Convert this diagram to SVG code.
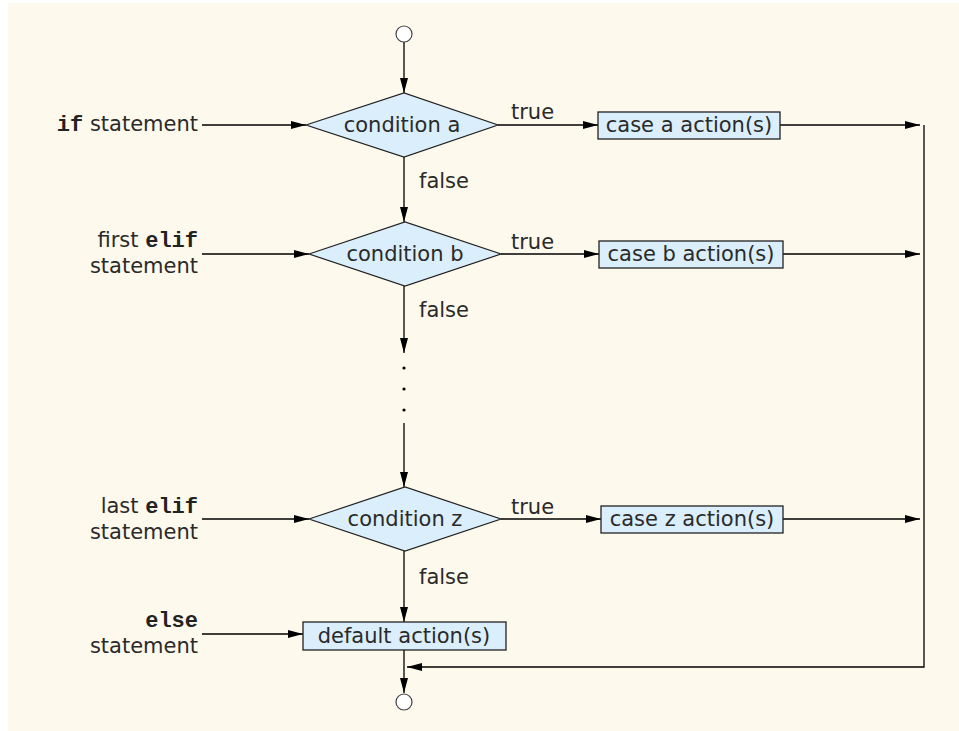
<svg xmlns="http://www.w3.org/2000/svg" width="959" height="731" viewBox="0 0 959 731">
  <defs>
    <marker id="arrow" markerUnits="userSpaceOnUse" markerWidth="15" markerHeight="9" refX="15" refY="4.5" orient="auto">
      <path d="M0,0.5 L15,4.5 L0,8.5 z" fill="#000"/>
    </marker>
    <style>
      .bg { fill: #fdf9ec; }
      .dec { fill: #dbeefb; stroke: #222; stroke-width: 1.2; }
      .act { fill: #dbeefb; stroke: #222; stroke-width: 1.3; }
      .term { fill: #fff; stroke: #444; stroke-width: 1.2; }
      .flow { fill: none; stroke: #000; stroke-width: 1.3; }
      .arr { marker-end: url(#arrow); }
      .lbl { font-family: "DejaVu Sans", "Liberation Sans", sans-serif; font-size: 21px; fill: #2a2a2a; }
      .mid { text-anchor: middle; }
      .end { text-anchor: end; }
      .kw { font-family: "Liberation Mono", "DejaVu Sans Mono", monospace; font-weight: bold; font-size: 22px; fill: #222; }
      .dot { fill: #000; }
    </style>
  </defs>

  <rect class="bg" x="8" y="3" width="951" height="728"/>

  <!-- connectors -->
  <g id="connectors">
    <line class="flow arr" x1="404" y1="42" x2="404" y2="93"/>
    <line class="flow arr" x1="404" y1="157" x2="404" y2="222"/>
    <line class="flow arr" x1="404" y1="286" x2="404" y2="353"/>
    <circle class="dot" cx="404" cy="368" r="1.6"/>
    <circle class="dot" cx="404" cy="389" r="1.6"/>
    <circle class="dot" cx="404" cy="410" r="1.6"/>
    <line class="flow arr" x1="404" y1="423" x2="404" y2="487"/>
    <line class="flow arr" x1="404" y1="551" x2="404" y2="622"/>
    <line class="flow arr" x1="404" y1="650" x2="404" y2="693"/>

    <!-- entry arrows from statement labels -->
    <line class="flow arr" x1="202" y1="125" x2="306" y2="125"/>
    <line class="flow arr" x1="202" y1="254" x2="309" y2="254"/>
    <line class="flow arr" x1="202" y1="519" x2="309" y2="519"/>
    <line class="flow arr" x1="202" y1="634" x2="303" y2="634"/>

    <!-- true branches -->
    <line class="flow arr" x1="498" y1="125" x2="598" y2="125"/>
    <line class="flow arr" x1="501" y1="254" x2="599" y2="254"/>
    <line class="flow arr" x1="501" y1="519" x2="601" y2="519"/>

    <!-- from action boxes to the merge line -->
    <line class="flow arr" x1="780" y1="125" x2="920" y2="125"/>
    <line class="flow arr" x1="783" y1="254" x2="920" y2="254"/>
    <line class="flow arr" x1="783" y1="519" x2="920" y2="519"/>
    <polyline class="flow arr" points="924,125 924,667 407,667"/>
  </g>

  <!-- labels on connectors -->
  <g id="edge-labels">
    <text class="lbl" x="511" y="119">true</text>
    <text class="lbl" x="511" y="249">true</text>
    <text class="lbl" x="511" y="514">true</text>
    <text class="lbl" x="419" y="188">false</text>
    <text class="lbl" x="419" y="317">false</text>
    <text class="lbl" x="419" y="584">false</text>
  </g>

  <!-- statement labels -->
  <g id="label-if">
    <text class="lbl end" x="198" y="131"><tspan class="kw">if</tspan> statement</text>
  </g>
  <g id="label-first-elif">
    <text class="lbl end" x="198" y="247">first <tspan class="kw">elif</tspan></text>
    <text class="lbl end" x="198" y="273">statement</text>
  </g>
  <g id="label-last-elif">
    <text class="lbl end" x="198" y="513">last <tspan class="kw">elif</tspan></text>
    <text class="lbl end" x="198" y="539">statement</text>
  </g>
  <g id="label-else">
    <text class="kw end" x="198" y="627">else</text>
    <text class="lbl end" x="198" y="653">statement</text>
  </g>

  <!-- nodes -->
  <g id="start">
    <circle class="term" cx="404" cy="34" r="8"/>
  </g>

  <g id="cond-a">
    <polygon class="dec" points="306,125 404,93 498,125 404,157"/>
    <text class="lbl mid" x="402" y="132">condition a</text>
  </g>
  <g id="action-a">
    <rect class="act" x="598" y="112" width="182" height="27"/>
    <text class="lbl mid" x="689" y="132">case a action(s)</text>
  </g>

  <g id="cond-b">
    <polygon class="dec" points="309,254 405,222 501,254 405,286"/>
    <text class="lbl mid" x="405" y="261">condition b</text>
  </g>
  <g id="action-b">
    <rect class="act" x="599" y="241" width="184" height="27"/>
    <text class="lbl mid" x="691" y="261">case b action(s)</text>
  </g>

  <g id="cond-z">
    <polygon class="dec" points="309,519 405,487 501,519 405,551"/>
    <text class="lbl mid" x="405" y="526">condition z</text>
  </g>
  <g id="action-z">
    <rect class="act" x="601" y="506" width="182" height="27"/>
    <text class="lbl mid" x="692" y="526">case z action(s)</text>
  </g>

  <g id="default-action">
    <rect class="act" x="303" y="622" width="203" height="28"/>
    <text class="lbl mid" x="404" y="643">default action(s)</text>
  </g>

  <g id="end">
    <circle class="term" cx="404" cy="702" r="8"/>
  </g>
</svg>
